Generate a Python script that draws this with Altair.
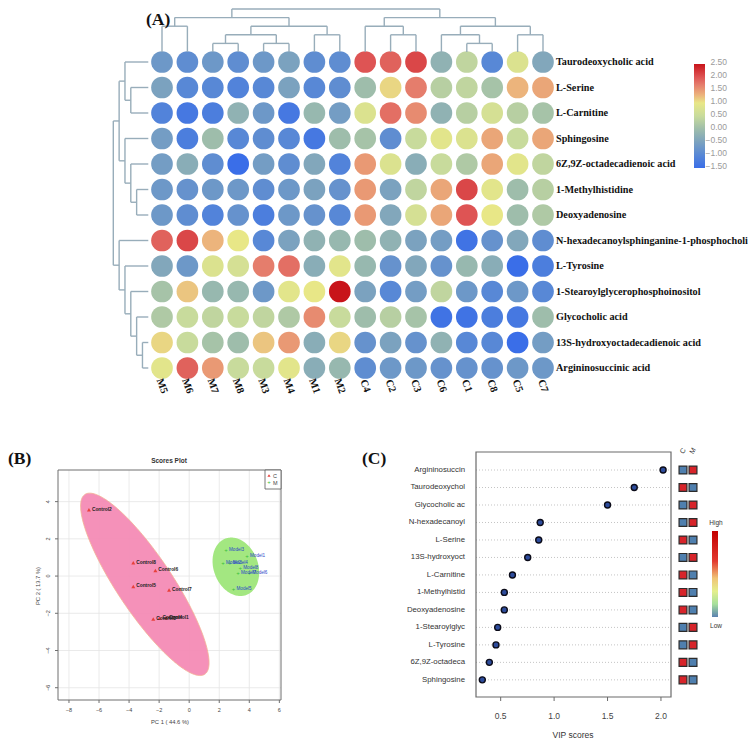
import numpy as np
import pandas as pd
import altair as alt

OFF = 8   # page margin
LS = 6    # upward shift of the lower panels so everything fits

# ---------------- Data: panel A (heatmap) ----------------
metabolites = [
    "Taurodeoxycholic acid", "L-Serine", "L-Carnitine", "Sphingosine",
    "6Z,9Z-octadecadienoic acid", "1-Methylhistidine", "Deoxyadenosine",
    "N-hexadecanoylsphinganine-1-phosphocholi", "L-Tyrosine",
    "1-Stearoylglycerophosphoinositol", "Glycocholic acid",
    "13S-hydroxyoctadecadienoic acid", "Argininosuccinic acid",
]
samples = ["M5", "M6", "M7", "M8", "M3", "M4", "M1", "M2",
           "C4", "C2", "C3", "C6", "C1", "C8", "C5", "C7"]
z_scores = [
    [-0.7, -0.9, -0.7, -0.9, -0.7, -0.5, -0.9, -0.9, 2.0, 1.9, 2.1, -0.2, 0.4, -1.0, 0.8, -0.4],
    [-0.5, -1.0, -1.0, -1.1, -1.0, -0.5, -1.0, -0.9, 0.0, 1.1, 1.7, 0.3, 0.4, 0.1, 1.3, 1.4],
    [-1.1, -1.3, -1.2, -0.2, -0.7, -1.3, -0.1, -0.6, 0.8, 1.8, 1.6, -0.2, 0.3, 0.7, 0.3, 0.1],
    [-0.6, -1.2, 0.0, -1.0, -0.9, -1.0, -1.3, 0.0, 0.1, -0.9, 0.5, 0.9, 0.8, 1.4, 0.5, 1.4],
    [-0.6, -0.3, -0.9, -1.5, -0.6, -0.9, -0.4, -1.1, 1.5, 0.8, -0.3, 0.5, 0.2, 1.4, 0.9, 0.4],
    [-0.7, -0.8, -0.7, -0.7, -0.9, -0.7, -0.5, -0.8, 1.5, -0.5, 0.4, 1.4, 2.1, 0.9, 0.0, 0.3],
    [-0.7, -0.9, -1.1, -0.8, -1.2, -0.7, -0.8, -1.0, 1.5, -0.4, 0.7, 1.4, 2.0, 1.0, 0.0, 0.2],
    [1.9, 2.1, 1.3, 1.0, -1.0, -0.5, -0.2, -0.1, 0.0, -0.2, -0.5, -0.6, -1.4, -0.8, -0.4, -0.9],
    [-0.4, -0.7, 0.8, 0.7, 1.7, 1.8, -0.3, 0.9, -0.1, -0.8, -0.4, -0.8, -0.1, -0.3, -1.5, -1.2],
    [0.1, 1.2, -0.1, -0.1, -0.7, 0.9, 1.0, 2.5, -0.5, -1.0, -0.6, 0.4, -0.7, -1.0, -0.7, -1.0],
    [0.2, 0.5, 0.4, 0.5, 0.4, 0.2, 1.6, 0.5, 0.0, 0.3, 0.1, -1.4, -1.4, -1.2, -1.3, 0.0],
    [1.1, 0.5, 0.1, 0.0, 1.2, 1.5, -0.3, 1.1, -0.8, -0.5, -0.8, -0.2, -1.0, -1.0, -1.5, -0.6],
    [0.9, 1.9, 1.5, 0.5, 0.5, 0.9, -0.3, -0.1, -0.9, -0.7, -0.7, -0.8, -0.8, -0.8, -0.7, -0.7],
]
# dendrogram merges: (left, right, height level); ints = leaves, "nK" = K-th merge
col_merges = [
    (0, 1, 3), (2, 3, 1), (4, 5, 1), ("n1", "n2", 2), (6, 7, 2), ("n3", "n4", 3),
    ("n0", "n5", 4), (9, 10, 2), (8, "n7", 3), (12, 13, 1), (11, "n9", 2),
    (14, 15, 2), ("n10", "n11", 3), ("n8", "n12", 4), ("n6", "n13", 5),
]
row_merges = [
    (1, 2, 3), (0, "n0", 4), (5, 6, 2), (4, "n2", 3), (3, "n3", 4), ("n1", "n4", 5),
    (11, 12, 1), (10, "n6", 2), (9, "n7", 3), (8, "n8", 4), (7, "n9", 5), ("n5", "n10", 6),
]
z_legend = [2.5, 2.0, 1.5, 1.0, 0.5, 0.0, -0.5, -1.0, -1.5]
z_stops = [-1.5, -1.0, -0.5, 0.0, 0.5, 1.0, 1.3, 1.7, 2.0, 2.5]
z_colors = ["#3a6ee8", "#5888d6", "#7ba2bf", "#9ebdab", "#c8db9c",
            "#e8e787", "#ecb47c", "#e57d6c", "#de5454", "#c8141a"]

# ---------------- Data: panel B (PCA scores) ----------------
ctrl_labels = ["Control2", "Control8", "Control6", "Control5", "Control7",
               "Control3", "Control4", "Control1"]
ctrl_pc1 = [-6.67, -3.72, -2.25, -3.72, -1.34, -2.39, -1.98, -1.54]
ctrl_pc2 = [3.56, 0.71, 0.30, -0.56, -0.75, -2.31, -2.27, -2.24]
model_labels = ["Model3", "Model1", "Model2", "Model4", "Model8", "Model7",
                "Model6", "Model5"]
model_pc1 = [2.45, 3.85, 2.25, 2.70, 3.40, 3.25, 4.00, 2.95]
model_pc2 = [1.41, 1.09, 0.70, 0.68, 0.43, 0.19, 0.19, -0.70]
pc1_ticks = [-8, -6, -4, -2, 0, 2, 4, 6]
pc2_ticks = [-6, -4, -2, 0, 2, 4]

# ---------------- Data: panel C (VIP) ----------------
vip_names = ["Argininosuccin", "Taurodeoxychol", "Glycocholic ac", "N-hexadecanoyl",
             "L-Serine", "13S-hydroxyoct", "L-Carnitine", "1-Methylhistid",
             "Deoxyadenosine", "1-Stearoylglyc", "L-Tyrosine", "6Z,9Z-octadeca",
             "Sphingosine"]
vip_scores = [2.02, 1.75, 1.50, 0.87, 0.856, 0.753, 0.61, 0.534, 0.534,
              0.472, 0.456, 0.394, 0.328]
vip_c_high = [0, 1, 0, 0, 1, 0, 1, 1, 1, 0, 0, 1, 1]
vip_ticks = [0.5, 1.0, 1.5, 2.0]
vip_groups = ["C", "M"]


# ---------------- helpers ----------------
def lin(d0, d1, p0, p1):
    return alt.Scale(domain=[d0, d1], range=[p0 - OFF, p1 - OFF], nice=False, zero=False)


def txt(s, x, y, **kw):
    return alt.Chart(pd.DataFrame({"t": [s]})).mark_text(**kw).encode(
        x=alt.value(x - OFF), y=alt.value(y - OFF), text="t:N")


def dendro_segments(merges):
    nodes, segs = [], []

    def get(ref):
        if isinstance(ref, int):
            return float(ref), 0.0
        return nodes[int(ref[1:])]

    for l, r, h in merges:
        pl, hl = get(l)
        pr, hr = get(r)
        segs.append((pl, hl, pl, h))
        segs.append((pr, hr, pr, h))
        segs.append((pl, h, pr, h))
        nodes.append(((pl + pr) / 2.0, h))
    return pd.DataFrame(segs, columns=["p1", "h1", "p2", "h2"])


def ellipse_band(xs, ys, n=120):
    xs = np.asarray(xs, float)
    ys = np.asarray(ys, float)
    mx, my = xs.mean(), ys.mean()
    S = np.cov(xs, ys)
    t2 = 5.991464547  # chi-square(0.95, 2)
    Si = np.linalg.inv(S)
    a, b, c = Si[0, 0], Si[0, 1], Si[1, 1]
    half = np.sqrt(t2 * S[0, 0])
    dx = half * np.cos(np.linspace(0, np.pi, n))
    disc = np.clip(b * b * dx * dx - c * (a * dx * dx - t2), 0, None)
    lo = (-b * dx - np.sqrt(disc)) / c
    hi = (-b * dx + np.sqrt(disc)) / c
    return pd.DataFrame({"x": mx + dx, "lo": my + lo, "hi": my + hi})


SERIF = "Liberation Serif"
SANS = "Liberation Sans"
DCOL = "#98adba"

# ---------------- Panel A ----------------
xA = lin(0, 15, 162, 543)
yA = lin(0, 12, 62, 368)
heat_df = pd.DataFrame([{"ci": j, "ri": i, "z": z_scores[i][j]}
                        for i in range(len(metabolites)) for j in range(len(samples))])
cscale = alt.Scale(domain=z_stops, range=z_colors, interpolate="rgb")
circles = alt.Chart(heat_df).mark_circle(size=470, opacity=1).encode(
    x=alt.X("ci:Q", scale=xA, axis=None),
    y=alt.Y("ri:Q", scale=yA, axis=None),
    color=alt.Color("z:Q", scale=cscale, legend=None))
row_lab = alt.Chart(pd.DataFrame({"ri": list(range(len(metabolites))), "name": metabolites})).mark_text(
    align="left", baseline="middle", font=SERIF, fontWeight="bold", fontSize=10.2, color="#111"
).encode(x=alt.value(556 - OFF), y=alt.Y("ri:Q", scale=yA, axis=None), text="name:N")
col_lab = alt.Chart(pd.DataFrame({"ci": list(range(len(samples))), "name": samples})).mark_text(
    align="center", baseline="middle", angle=70, font=SERIF, fontWeight="bold", fontSize=10.5, color="#111"
).encode(x=alt.X("ci:Q", scale=xA, axis=None), y=alt.value(386 - OFF), text="name:N")
panelA = alt.layer(circles, row_lab, col_lab)

top_d = alt.Chart(dendro_segments(col_merges)).mark_rule(color=DCOL, strokeWidth=1.4).encode(
    x=alt.X("p1:Q", scale=lin(0, 15, 162, 543), axis=None), x2="p2:Q",
    y=alt.Y("h1:Q", scale=lin(0, 5, 52, 9), axis=None), y2="h2:Q")
left_d = alt.Chart(dendro_segments(row_merges)).mark_rule(color=DCOL, strokeWidth=1.4).encode(
    x=alt.X("h1:Q", scale=lin(0, 6, 148.3, 113.3), axis=None), x2="h2:Q",
    y=alt.Y("p1:Q", scale=lin(0, 12, 62, 368), axis=None), y2="p2:Q")

zlo, zhi = min(z_stops), max(z_stops)
ycb = lin(zlo, zhi, 168, 64)
cb_rect = alt.Chart(pd.DataFrame({"lo": [zlo], "hi": [zhi]})).mark_rect(
    fill=alt.Gradient(gradient="linear",
                      stops=[alt.GradientStop(color=c, offset=(v - zlo) / (zhi - zlo))
                             for v, c in zip(z_stops, z_colors)],
                      x1=0, x2=0, y1=1, y2=0)
).encode(x=alt.value(694 - OFF), x2=alt.value(705 - OFF),
         y=alt.Y("lo:Q", scale=ycb, axis=None), y2="hi:Q")
cb_lab = alt.Chart(pd.DataFrame({"v": z_legend})).mark_text(
    align="right", baseline="middle", dy=-2, fontSize=8.5, font=SANS, color="#9a9a9a"
).encode(x=alt.value(727 - OFF), y=alt.Y("v:Q", scale=ycb, axis=None),
         text=alt.Text("v:Q", format=".2f"))
colorbarA = alt.layer(cb_rect, cb_lab)

# ---------------- Panel B ----------------
bx0, bx1, by0, by1 = -8.73, 6.11, -6.66, 5.70
xB = lin(bx0, bx1, 58, 281)
yB = lin(by0, by1, 706 - LS, 476 - LS)
ctrl_df = pd.DataFrame({"pc1": ctrl_pc1, "pc2": ctrl_pc2, "lab": ctrl_labels})
model_df = pd.DataFrame({"pc1": model_pc1, "pc2": model_pc2, "lab": model_labels})
XB = alt.X("pc1:Q", scale=xB, axis=None)
YB = alt.Y("pc2:Q", scale=yB, axis=None)

gridBx = alt.Chart(pd.DataFrame({"v": pc1_ticks, "lo": by0, "hi": by1})).mark_rule(
    color="#e4e4e4", strokeWidth=0.8).encode(
    x=alt.X("v:Q", scale=xB, axis=None), y=alt.Y("lo:Q", scale=yB, axis=None), y2="hi:Q")
gridBy = alt.Chart(pd.DataFrame({"v": pc2_ticks, "lo": bx0, "hi": bx1})).mark_rule(
    color="#e4e4e4", strokeWidth=0.8).encode(
    y=alt.Y("v:Q", scale=yB, axis=None), x=alt.X("lo:Q", scale=xB, axis=None), x2="hi:Q")
ell_c = alt.Chart(ellipse_band(ctrl_pc1, ctrl_pc2)).mark_area(
    color="#f58cb6", opacity=0.95, stroke="#f3b08e", strokeWidth=0.8).encode(
    x=alt.X("x:Q", scale=xB, axis=None), y=alt.Y("lo:Q", scale=yB, axis=None), y2="hi:Q")
ell_m = alt.Chart(ellipse_band(model_pc1, model_pc2)).mark_area(
    color="#9ee67a", opacity=0.95).encode(
    x=alt.X("x:Q", scale=xB, axis=None), y=alt.Y("lo:Q", scale=yB, axis=None), y2="hi:Q")
frameB = alt.Chart(pd.DataFrame({"x0": [bx0], "x1": [bx1], "y0": [by0], "y1": [by1]})).mark_rect(
    fillOpacity=0, stroke="#6f6f6f", strokeWidth=1).encode(
    x=alt.X("x0:Q", scale=xB, axis=None), x2="x1:Q",
    y=alt.Y("y0:Q", scale=yB, axis=None), y2="y1:Q")
ctrl_pts = alt.Chart(ctrl_df).mark_point(shape="triangle-up", filled=True, size=16,
                                         color="#e8403c", opacity=1).encode(x=XB, y=YB)
ctrl_txt = alt.Chart(ctrl_df).mark_text(align="left", baseline="middle", dx=3, fontSize=4.8,
                                        font=SANS, fontWeight="bold", color="#222").encode(
    x=XB, y=YB, text="lab:N")
model_pts = alt.Chart(model_df).mark_text(text="+", fontSize=6, color="#3cbf3c",
                                          baseline="middle").encode(x=XB, y=YB)
model_txt = alt.Chart(model_df).mark_text(align="left", baseline="middle", dx=3, fontSize=4.6,
                                          font=SANS, color="#2a45c8").encode(
    x=XB, y=YB, text="lab:N")
tickBx = alt.Chart(pd.DataFrame({"v": pc1_ticks})).mark_rule(color="#6f6f6f").encode(
    x=alt.X("v:Q", scale=xB, axis=None), y=alt.value(706 - OFF - LS), y2=alt.value(709 - OFF - LS))
tickBy = alt.Chart(pd.DataFrame({"v": pc2_ticks})).mark_rule(color="#6f6f6f").encode(
    y=alt.Y("v:Q", scale=yB, axis=None), x=alt.value(58 - OFF), x2=alt.value(55 - OFF))
labBx = alt.Chart(pd.DataFrame({"v": pc1_ticks})).mark_text(
    fontSize=5.5, font=SANS, color="#444", baseline="middle").encode(
    x=alt.X("v:Q", scale=xB, axis=None), y=alt.value(716 - OFF - LS), text=alt.Text("v:Q", format="d"))
labBy = alt.Chart(pd.DataFrame({"v": pc2_ticks})).mark_text(
    fontSize=5.5, font=SANS, color="#444", baseline="middle", angle=270).encode(
    y=alt.Y("v:Q", scale=yB, axis=None), x=alt.value(48 - OFF), text=alt.Text("v:Q", format="d"))
legB_box = alt.Chart(pd.DataFrame({"a": [0]})).mark_rect(
    fill="white", stroke="#555", strokeWidth=0.8).encode(
    x=alt.value(265 - OFF), x2=alt.value(281 - OFF), y=alt.value(476 - OFF - LS), y2=alt.value(495 - OFF - LS))
legB = [
    legB_box,
    alt.Chart(pd.DataFrame({"a": [0]})).mark_point(shape="triangle-up", filled=True, size=10,
                                                   color="#e8403c", opacity=1).encode(
        x=alt.value(269 - OFF), y=alt.value(481.5 - OFF - LS)),
    txt("+", 269, 488 - LS, fontSize=6, color="#3cbf3c", baseline="middle"),
    txt("C", 273, 481.5 - LS, fontSize=5.5, font=SANS, color="#444", align="left", baseline="middle"),
    txt("M", 273, 488.5 - LS, fontSize=5.5, font=SANS, color="#444", align="left", baseline="middle"),
]
titleB = txt("Scores Plot", 169, 467 - LS, fontSize=6.5, font=SANS, fontWeight="bold",
             color="#333", baseline="middle")
xtitleB = txt("PC 1 ( 44.6 %)", 170, 728 - LS, fontSize=5.8, font=SANS, color="#444", baseline="middle")
ytitleB = txt("PC 2 ( 13.7 %)", 38, 592 - LS, fontSize=5.8, font=SANS, color="#444",
              baseline="middle", angle=270)
panelB = alt.layer(gridBx, gridBy, ell_c, ell_m, frameB, ctrl_pts, ctrl_txt, model_pts,
                   model_txt, tickBx, tickBy, labBx, labBy, *legB, titleB, xtitleB, ytitleB)

# ---------------- Panel C ----------------
cx0, cx1, cy0, cy1 = 0.269, 2.094, -1.03, 12.98
xC = lin(cx0, cx1, 476, 671)
yC = lin(cy0, cy1, 458 - LS, 703 - LS)
vip_df = pd.DataFrame({"ri": list(range(len(vip_names))), "name": vip_names, "vip": vip_scores,
                       "x0": cx0, "x1": cx1})
gridC = alt.Chart(vip_df).mark_rule(color="#c4c4c4", strokeDash=[1, 2], strokeWidth=1).encode(
    x=alt.X("x0:Q", scale=xC, axis=None), x2="x1:Q", y=alt.Y("ri:Q", scale=yC, axis=None))
frameC = alt.Chart(pd.DataFrame({"x0": [cx0], "x1": [cx1], "y0": [cy0], "y1": [cy1]})).mark_rect(
    fillOpacity=0, stroke="#6a6a6a", strokeWidth=1.2).encode(
    x=alt.X("x0:Q", scale=xC, axis=None), x2="x1:Q",
    y=alt.Y("y0:Q", scale=yC, axis=None), y2="y1:Q")
ptsC = alt.Chart(vip_df).mark_circle(size=36, color="#2d4c9c", stroke="#0b0b18",
                                     strokeWidth=1.4, opacity=1).encode(
    x=alt.X("vip:Q", scale=xC, axis=None), y=alt.Y("ri:Q", scale=yC, axis=None))
labC = alt.Chart(vip_df).mark_text(align="right", baseline="middle", fontSize=7.8, font=SANS,
                                   color="#333").encode(
    x=alt.value(465 - OFF), y=alt.Y("ri:Q", scale=yC, axis=None), text="name:N")
tickC = alt.Chart(pd.DataFrame({"v": vip_ticks})).mark_rule(color="#6a6a6a").encode(
    x=alt.X("v:Q", scale=xC, axis=None), y=alt.value(703 - OFF - LS), y2=alt.value(707 - OFF - LS))
tlabC = alt.Chart(pd.DataFrame({"v": vip_ticks})).mark_text(
    fontSize=8.5, font=SANS, color="#444", baseline="middle").encode(
    x=alt.X("v:Q", scale=xC, axis=None), y=alt.value(722 - OFF - LS), text=alt.Text("v:Q", format=".1f"))
xtitleC = txt("VIP scores", 573, 741 - LS, fontSize=8.5, font=SANS, color="#333", baseline="middle")
panelC = alt.layer(gridC, frameC, ptsC, labC, tickC, tlabC, xtitleC)

sq_rows = []
for i, h in enumerate(vip_c_high):
    sq_rows.append({"g": 0, "ri": i, "level": "High" if h else "Low"})
    sq_rows.append({"g": 1, "ri": i, "level": "Low" if h else "High"})
xS = lin(0, 1, 683, 693)
squares = alt.Chart(pd.DataFrame(sq_rows)).mark_square(
    size=62, filled=True, stroke="#2b2b2b", strokeWidth=1.2, opacity=1).encode(
    x=alt.X("g:Q", scale=xS, axis=None),
    y=alt.Y("ri:Q", scale=lin(cy0, cy1, 458 - LS, 703 - LS), axis=None),
    color=alt.Color("level:N", scale=alt.Scale(domain=["High", "Low"],
                                               range=["#d7242a", "#4f7fae"]), legend=None))
sq_head = alt.Chart(pd.DataFrame({"g": [0, 1], "name": vip_groups})).mark_text(
    fontSize=7, font=SANS, color="#333", angle=300, baseline="middle").encode(
    x=alt.X("g:Q", scale=xS, axis=None), y=alt.value(457 - OFF - LS), text="name:N")
squaresL = alt.layer(squares, sq_head)

c_stops = [(0.0, "#5b82b0"), (0.15, "#a6e09c"), (0.3, "#e4ef8c"), (0.45, "#f0c476"),
           (0.65, "#e23a30"), (1.0, "#c40000")]
cbC = alt.Chart(pd.DataFrame({"lo": [0.0], "hi": [1.0]})).mark_rect(
    fill=alt.Gradient(gradient="linear",
                      stops=[alt.GradientStop(color=c, offset=o) for o, c in c_stops],
                      x1=0, x2=0, y1=1, y2=0)).encode(
    x=alt.value(712 - OFF), x2=alt.value(718 - OFF),
    y=alt.Y("lo:Q", scale=lin(0, 1, 623 - LS, 537 - LS), axis=None), y2="hi:Q")
cbC_hi = txt("High", 716, 529 - LS, fontSize=6.5, font=SANS, color="#333", baseline="middle")
cbC_lo = txt("Low", 716, 632 - LS, fontSize=6.5, font=SANS, color="#333", baseline="middle")
colorbarC = alt.layer(cbC, cbC_hi, cbC_lo)

# ---------------- panel labels ----------------
labA = txt("(A)", 146, 20, font=SERIF, fontWeight="bold", fontSize=17.5, color="#111",
           align="left", baseline="middle")
labB = txt("(B)", 8, 465 - LS, font=SERIF, fontWeight="bold", fontSize=17.5, color="#111",
           align="left", baseline="middle")
labCC = txt("(C)", 362, 465 - LS, font=SERIF, fontWeight="bold", fontSize=17.5, color="#111",
            align="left", baseline="middle")

chart = alt.layer(
    panelA, top_d, left_d, colorbarA, panelB, panelC, squaresL, colorbarC, labA, labB, labCC
).resolve_scale(
    x="independent", y="independent", color="independent"
).properties(
    width=740, height=732, padding=0,
    autosize=alt.AutoSizeParams(type="none"), background="white"
).configure_view(stroke=None)

chart.save("out.html", embed_options={"renderer": "svg", "actions": False})
